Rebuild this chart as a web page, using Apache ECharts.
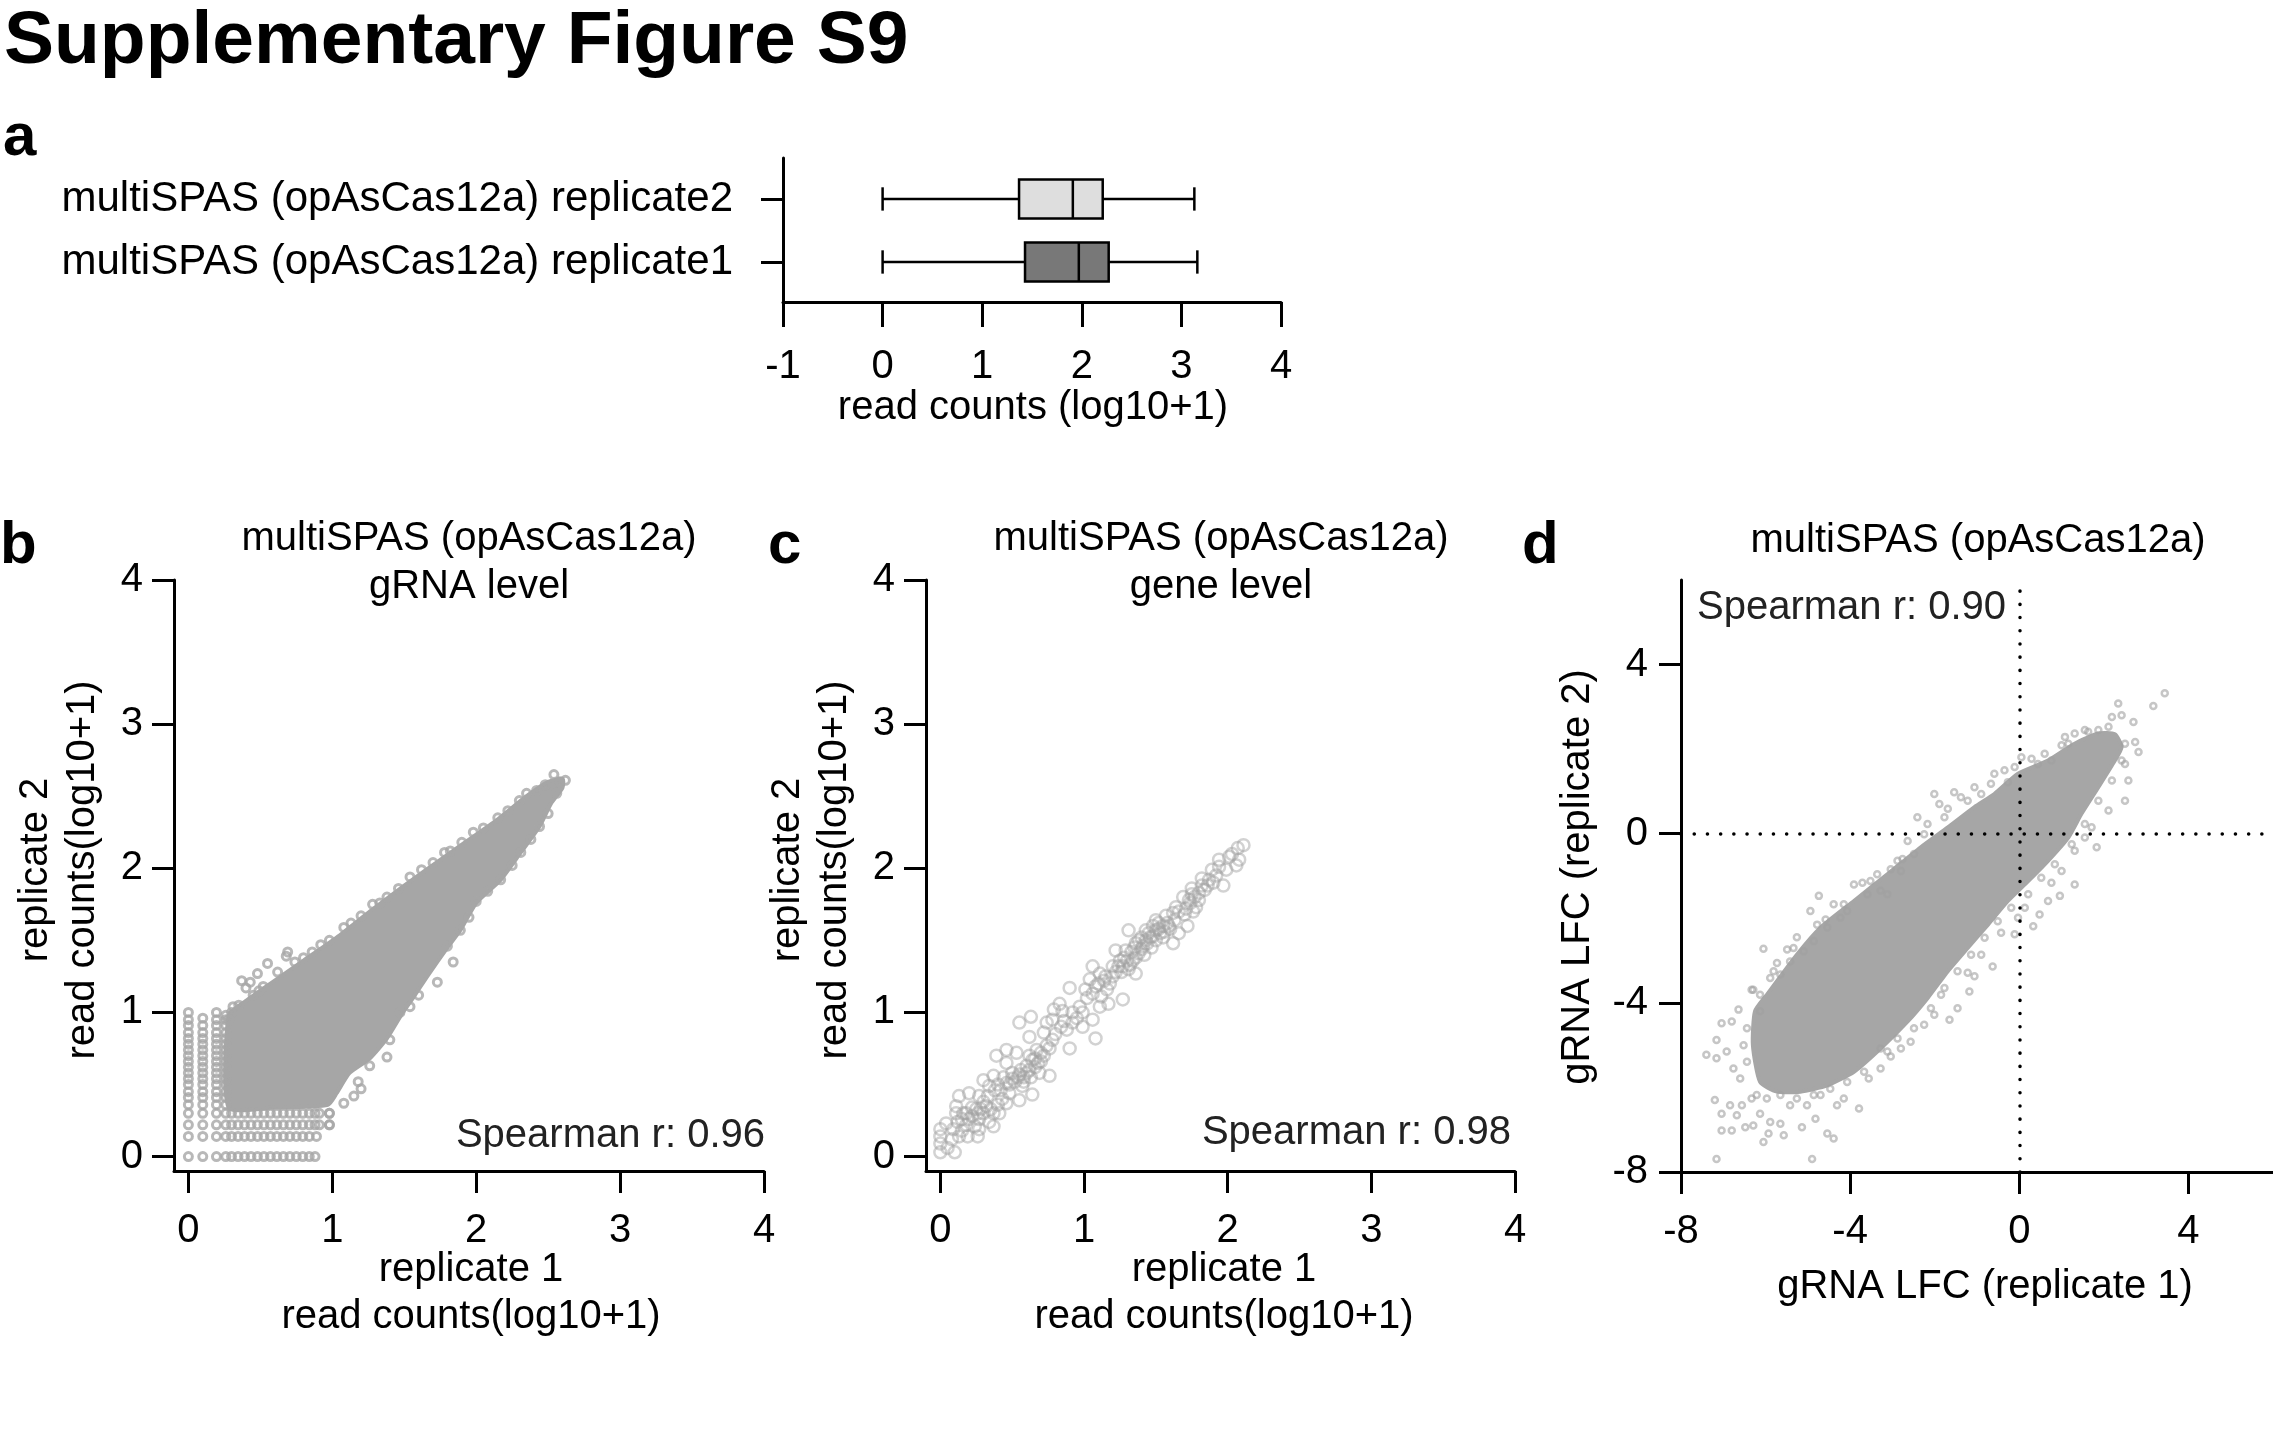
<!DOCTYPE html>
<html>
<head>
<meta charset="utf-8">
<script src="https://cdn.jsdelivr.net/npm/echarts@6/dist/echarts.min.js"></script>
<style>
html,body{margin:0;padding:0;background:#fff;overflow:hidden;}
#chart{width:2273px;height:1431px;}
</style>
</head>
<body>
<div id="chart"></div>
<script>
// ---------------- DATA ----------------
// panel a: box plot (min, Q1, median, Q3, max), bottom row first
const boxCategories = ['multiSPAS (opAsCas12a) replicate1', 'multiSPAS (opAsCas12a) replicate2'];
const boxStats = [
  [0, 1.43, 1.97, 2.27, 3.16],
  [0, 1.37, 1.91, 2.21, 3.13]
];
const boxColors = ['#787878', '#dedede'];
const countTicks = [0, 1, 2, 3, 4];
const lfcTicks = [-8, -4, 0, 4];

// panel b: gRNA level read counts — discrete low-count columns / rows
const gridColsB = [
  [0,     [0,0.14,0.22,0.30,0.36,0.41,0.45,0.50,0.54,0.58,0.62,0.66,0.70,0.74,0.78,0.82,0.86,0.91,0.95,1.00]],
  [0.10,  [0,0.14,0.22,0.30,0.36,0.41,0.45,0.50,0.54,0.58,0.62,0.66,0.70,0.74,0.78,0.82,0.86,0.91,0.96]],
  [0.195, [0,0.14,0.22,0.30,0.36,0.41,0.45,0.50,0.54,0.58,0.62,0.66,0.70,0.74,0.78,0.82,0.86,0.91,0.95,1.00]],
  [0.26,  [0,0.14,0.22,0.30,0.36,0.41,0.45,0.50,0.54,0.58,0.62,0.66,0.70,0.74,0.78,0.82,0.86,0.91,0.95,0.98]]
];
const gridRowsB = [
  [0,    [0.30,0.345,0.39,0.435,0.48,0.525,0.57,0.615,0.66,0.705,0.75,0.795,0.84,0.88]],
  [0.14, [0.30,0.345,0.39,0.435,0.48,0.525,0.57,0.615,0.66,0.705,0.75,0.795,0.84,0.89]],
  [0.22, [0.30,0.345,0.39,0.435,0.48,0.525,0.57,0.615,0.66,0.705,0.75,0.795,0.84,0.88,0.91,0.98]],
  [0.30, [0.30,0.345,0.39,0.435,0.48,0.525,0.57,0.615,0.66,0.705,0.75,0.795,0.84,0.88,0.91,0.98]]
];
// dense core of panel b (outline of the solid cloud)
const coreB = [
  [0.28,0.98],[0.40,1.08],[0.57,1.20],[0.80,1.36],[1.03,1.52],[1.26,1.70],[1.50,1.88],[1.78,2.08],
  [1.98,2.22],[2.15,2.34],[2.35,2.50],[2.50,2.60],[2.60,2.62],[2.60,2.56],[2.52,2.45],[2.44,2.29],
  [2.31,2.11],[2.17,1.92],[2.00,1.76],[1.89,1.57],[1.80,1.45],[1.66,1.25],[1.56,1.10],[1.49,1.00],
  [1.38,0.82],[1.26,0.68],[1.12,0.58],[1.03,0.44],[0.97,0.36],[0.60,0.34],[0.28,0.34]
];
const fringeB = [
  [0.31,1.04],[0.37,1.22],[0.40,1.17],[0.43,1.21],[0.49,1.15],[0.48,1.27],[0.55,1.34],[0.68,1.39],[0.69,1.42],
  [0.74,1.35],[0.80,1.38],[0.86,1.42],[0.92,1.47],[0.98,1.50],[1.08,1.59],[1.13,1.62],[1.20,1.67],
  [1.28,1.75],[1.33,1.76],[1.38,1.80],[1.46,1.86],[1.54,1.94],[1.62,1.99],[1.70,2.04],[1.78,2.11],
  [1.82,2.12],[1.90,2.18],[1.98,2.25],[2.05,2.28],[2.15,2.35],[2.22,2.40],[2.30,2.47],[2.35,2.52],
  [2.42,2.54],[2.48,2.58],[2.54,2.65],[2.58,2.60],[2.62,2.61],
  [0.98,0.30],[0.98,0.22],[1.08,0.37],[1.15,0.42],[1.18,0.52],[1.20,0.47],[1.26,0.63],[1.38,0.69],
  [1.40,0.81],[1.47,1.00],[1.54,1.04],[1.60,1.12],[1.73,1.21],[1.84,1.35],[1.80,1.46],[1.89,1.57],
  [1.95,1.66],[2.00,1.77],[2.08,1.84],[2.17,1.92],[2.25,2.02],[2.31,2.11],[2.38,2.20],[2.44,2.29],
  [2.50,2.38],[2.56,2.52],
  [0.30,1.00],[0.35,1.05],[0.45,1.12],[0.52,1.18],[0.62,1.28],[0.28,0.95]
];

// panel c: gene level read counts
const genePts = [
  [2.11,2.16],[2.07,2.14],[2.01,2.08],[2.06,2.02],[1.99,1.99],[1.94,2.01],[1.97,1.88],[1.92,1.95],[1.87,1.92],
  [1.82,1.88],[1.80,1.83],[1.75,1.82],[1.73,1.78],[1.78,1.73],[1.71,1.72],[1.69,1.80],[1.66,1.70],[1.62,1.69],
  [1.63,1.64],[1.59,1.60],[1.72,1.60],[1.66,1.55],[1.62,1.48],[1.52,1.62],[1.50,1.57],[1.48,1.53],[1.55,1.52],
  [1.43,1.50],[1.41,1.46],[1.36,1.48],[1.38,1.41],[1.34,1.36],[1.31,1.57],[1.29,1.43],[1.25,1.36],[1.27,1.32],
  [1.31,1.30],[1.36,1.27],[1.22,1.43],[1.20,1.32],[1.15,1.25],[1.11,1.27],[1.18,1.20],[1.06,1.32],[1.04,1.23],
  [1.01,1.16],[1.06,1.13],[1.12,1.11],[1.11,1.04],[1.17,1.06],[1.27,1.09],[0.90,1.17],[0.83,1.06],[0.85,1.01],
  [0.92,1.00],[0.97,1.04],[0.99,1.00],[0.92,0.93],[0.88,0.88],[0.99,0.90],[1.06,0.95],[1.08,0.82],[0.79,1.02],
  [0.78,0.95],[0.63,0.97],[0.55,0.93],[0.62,0.83],[0.74,0.93],[0.72,0.86],[0.78,0.81],[0.76,0.75],[0.70,0.72],
  [0.67,0.74],[0.90,0.75],[0.64,0.67],[0.60,0.63],[0.55,0.57],[0.69,0.58],[0.76,0.56],[0.46,0.74],[0.39,0.70],
  [0.53,0.72],[0.46,0.65],[0.50,0.58],[0.57,0.49],[0.46,0.51],[0.42,0.46],[0.37,0.56],[0.34,0.49],[0.30,0.53],
  [0.27,0.42],[0.32,0.35],[0.37,0.30],[0.46,0.37],[0.48,0.44],[0.64,0.43],[0.55,0.39],[0.20,0.44],[0.13,0.42],
  [0.11,0.35],[0.11,0.30],[0.16,0.30],[0.25,0.33],[0.20,0.26],[0.27,0.26],[0.34,0.24],[0.27,0.19],[0.04,0.23],
  [0.09,0.19],[0.13,0.14],[0.19,0.14],[0.26,0.14],[0.00,0.14],[0.00,0.09],[0.00,0.03],[0.10,0.03],[0.00,0.19],
  [0.37,0.21],[0.41,0.30],[1.43,1.57],[1.50,1.64],[1.57,1.67],[1.64,1.73],[1.75,1.86],[1.82,1.93],[1.89,1.99],
  [1.94,2.06],[2.03,2.10],[2.08,2.06],[1.40,1.52],[1.45,1.55],[1.52,1.58],[1.47,1.45],[1.33,1.42],[1.28,1.38],
  [1.55,1.60],[0.58,0.55],[0.62,0.60],[0.52,0.52],[0.66,0.62],[0.72,0.70],[0.35,0.33],[0.30,0.30],[0.22,0.28],
  [0.18,0.22],[0.08,0.12],[0.05,0.06],[0.24,0.21],[0.15,0.18],[0.43,0.40],[0.40,0.36],
  [1.35,1.45],[1.38,1.50],[1.42,1.40],[1.44,1.48],[1.46,1.52],[1.50,1.50],[1.53,1.55],[1.56,1.56],[1.58,1.62],
  [1.60,1.58],[1.48,1.60],[1.40,1.44],[1.32,1.33],[1.30,1.36],[1.26,1.28],[1.24,1.32],[1.36,1.38],
  [1.74,1.76],[1.77,1.80],[1.80,1.78],[1.84,1.85],[1.86,1.88],[1.90,1.90],[1.76,1.70],[1.70,1.68],
  [0.56,0.60],[0.60,0.58],[0.63,0.55],[0.58,0.52],[0.66,0.68],[0.68,0.65],[0.54,0.55],[0.50,0.54],[0.48,0.50],
  [0.62,0.70],[0.70,0.66],[0.74,0.77],[0.80,0.85],[0.84,0.90],[0.86,0.94],[0.95,0.96],
  [0.12,0.24],[0.18,0.30],[0.22,0.34],[0.28,0.33],[0.30,0.38],[0.15,0.26],[0.26,0.30],[0.33,0.42],[0.38,0.46],
  [0.40,0.50],[0.44,0.55],
  [1.02,1.10],[1.08,1.18],[1.14,1.22],[1.16,1.16],[1.20,1.25],[1.22,1.28],[1.10,1.20]
];

// panel d: gRNA LFC replicate 1 vs 2
const coreD = [
  [-6.30,-5.00],[-6.25,-4.20],[-5.97,-3.81],[-5.26,-2.86],[-4.70,-2.22],[-3.91,-1.59],[-3.12,-0.96],
  [-2.33,-0.32],[-1.69,0.15],[-1.06,0.63],[-0.59,0.94],[-0.03,1.42],[0.68,1.73],[1.31,2.13],[1.87,2.37],
  [2.26,2.35],[2.42,2.05],[2.26,1.73],[1.87,1.10],[1.47,0.47],[1.16,-0.09],[0.68,-0.64],[0.21,-1.12],
  [-0.27,-1.59],[-0.74,-2.15],[-1.22,-2.70],[-1.69,-3.25],[-2.17,-3.89],[-2.64,-4.44],[-3.28,-5.08],
  [-3.91,-5.63],[-4.54,-5.95],[-5.18,-6.10],[-5.73,-6.10],[-6.13,-5.87]
];
const fringeD = [
  [3.44,3.32],[3.17,3.02],
  [-4.74,-1.47],[-4.94,-1.83],[-4.39,-1.67],[-4.58,-2.03],[-5.26,-2.45],[-5.49,-2.74],[-6.05,-2.72],
  [-5.73,-3.06],[-6.29,-3.69],[-6.13,-3.81],[-5.89,-3.41],[-5.65,-3.33],[-5.42,-3.02],[-5.10,-2.78],
  [-4.86,-2.54],[-4.54,-2.22],[-4.23,-1.99],[-4.07,-1.83],[-3.91,-1.20],[-3.71,-1.16],[-3.59,-1.43],
  [-3.36,-0.96],[-3.04,-0.84],[-2.80,-0.88],[-3.28,-1.35],[-3.12,-1.43],[-2.76,-0.60],[-2.64,-0.17],
  [-2.49,-0.48],[-2.41,0.39],[-2.17,0.23],[-2.01,0.94],[-1.89,0.70],[-1.69,0.59],[-1.54,0.98],[-1.38,0.86],
  [-1.06,1.10],[-0.90,0.94],[-0.59,1.42],[-0.35,1.50],[-0.27,1.22],[0.05,1.81],[0.29,1.77],[0.44,1.65],
  [0.76,1.73],[1.00,2.09],[1.08,2.29],[1.31,2.37],[1.55,2.45],[1.87,2.45],[2.19,2.76],[2.42,2.80],
  [2.34,3.08],[2.70,2.64],[2.74,2.17],[2.82,1.93],[2.50,1.65],[2.58,1.26],[2.50,0.78],[2.11,0.55],
  [1.83,-0.32],[1.71,0.15],[1.55,-0.09],[1.31,-0.40],[1.31,-1.20],[1.00,-0.88],[0.96,-1.47],[0.76,-1.16],
  [0.68,-1.59],[0.48,-1.91],[0.33,-2.19],[0.13,-1.75],[-0.03,-1.99],[-0.11,-2.38],[-0.43,-2.34],
  [-0.63,-3.14],[-0.90,-2.86],[-1.06,-3.37],[-1.22,-3.29],[-1.18,-3.73],[-1.46,-4.13],[-1.65,-4.40],
  [-1.85,-3.81],[-2.01,-4.28],[-2.25,-4.52],[-2.57,-4.92],[-2.80,-5.08],[-3.04,-5.27],[-3.28,-5.55],
  [-3.56,-5.79],[-3.79,-6.50],[-4.15,-6.26],[-4.31,-6.42],[-4.54,-7.09],[-4.39,-7.21],[-4.82,-6.74],
  [-5.14,-6.94],[-5.57,-7.13],[-5.65,-6.86],[-5.93,-7.09],[-6.05,-7.29],[-6.29,-6.90],[-6.48,-6.94],
  [-6.80,-7.02],[-7.04,-7.02],[-7.16,-7.69],[-4.90,-7.69],[-7.20,-6.30],[-7.04,-6.62],[-6.84,-6.42],
  [-6.68,-6.66],[-6.56,-6.42],[-6.33,-6.26],[-6.13,-6.62],[-6.76,-5.55],[-6.92,-5.15],[-7.16,-5.31],
  [-7.40,-5.23],[-7.16,-4.88],[-7.04,-4.48],[-6.80,-4.44],[-6.64,-4.16],[-6.33,-3.69],[-5.89,-6.82],
  [-5.42,-6.42],[-5.02,-6.42],[-4.70,-6.18],[-3.28,-5.08],
  [-6.60,-5.79],[-6.44,-5.39],[-6.52,-5.00],[-6.44,-4.60],[-6.21,-6.18],[-5.97,-6.26],[-5.65,-6.18],
  [-5.26,-6.26],[-4.86,-6.18],[-4.47,-6.03],[-4.07,-5.87],[-3.67,-5.63],[-3.12,-5.15],[-2.88,-4.84],
  [-2.49,-4.60],[-2.09,-4.13],[-1.77,-3.65],[-1.46,-3.25],[-1.14,-2.86],[-0.82,-2.46],[-0.51,-2.07],
  [-0.19,-1.75],[0.21,-1.43],[0.52,-1.04],[0.84,-0.72],[1.24,-0.25],[1.55,0.23],[1.87,0.78],[2.19,1.26],
  [2.42,1.73],[2.50,2.13],[2.11,2.53],[1.63,2.41],[1.16,2.13],[0.60,1.89],[-0.11,1.58],[-0.67,1.18],
  [-1.22,0.78],[-1.77,0.39],[-2.25,-0.01],[-2.88,-0.64],[-3.52,-1.12],[-4.15,-1.67],[-4.78,-2.15],
  [-5.34,-2.70],[-5.81,-3.25],[-6.13,-4.20]
];
const spearman = {b: 'Spearman r: 0.96', c: 'Spearman r: 0.98', d: 'Spearman r: 0.90'};

// ---------------- CHART ----------------
const FONT = "'Liberation Sans', Arial, Helvetica, sans-serif";
const chart = echarts.init(document.getElementById('chart'), null, {renderer: 'canvas'});

function axisBase(extra) {
  return Object.assign({
    type: 'value',
    splitLine: {show: false},
    axisLine: {show: true, onZero: false, lineStyle: {color: '#000', width: 3}},
    axisTick: {show: true, length: 22, lineStyle: {color: '#000', width: 3}},
    axisLabel: {fontSize: 40, color: '#000', fontFamily: FONT}
  }, extra);
}
function ticks(vals, len) {
  return {show: true, length: len || 22, customValues: vals, lineStyle: {color: '#000', width: 3}};
}
function labels(vals, margin, extra) {
  return Object.assign({fontSize: 40, color: '#000', fontFamily: FONT, margin: margin, customValues: vals}, extra || {});
}

const pointsB = [];
gridColsB.forEach(c => c[1].forEach(y => pointsB.push([c[0], y])));
gridRowsB.forEach(r => r[1].forEach(x => pointsB.push([x, r[0]])));
fringeB.forEach(p => pointsB.push(p));

function polygonSeries(pts, xi, yi, color) {
  return {
    type: 'custom', xAxisIndex: xi, yAxisIndex: yi, z: 2, silent: true,
    data: pts,
    renderItem: function (params, api) {
      if (params.dataIndex !== 0) return null;
      return {
        type: 'polygon',
        shape: {points: pts.map(p => api.coord(p)), smooth: 0.2},
        style: {fill: color, stroke: color, lineWidth: 4, lineJoin: 'round'}
      };
    }
  };
}

function txt(x, y, text, opt) {
  opt = opt || {};
  return {
    type: 'text', x: x, y: y, rotation: opt.rotation || 0, silent: true, z: 10,
    style: {
      text: text, fill: opt.fill || '#000',
      fontSize: opt.size || 40, fontFamily: FONT, fontWeight: opt.weight || 'normal',
      align: opt.align || 'center', verticalAlign: 'middle',
      textAlign: opt.align || 'center', textVerticalAlign: 'middle',
      lineHeight: opt.lh || 48
    }
  };
}

const option = {
  animation: false,
  backgroundColor: '#fff',
  grid: [
    {left: 783, top: 158, width: 498, height: 144},
    {left: 174, top: 580, width: 590, height: 591},
    {left: 926, top: 580, width: 589, height: 591},
    {left: 1681, top: 580, width: 592, height: 592}
  ],
  xAxis: [
    axisBase({gridIndex: 0, min: -1, max: 4, interval: 1,
      axisTick: {show: true, length: 25, lineStyle: {color: '#000', width: 3}},
      axisLabel: {fontSize: 40, color: '#000', fontFamily: FONT, margin: 45}}),
    axisBase({gridIndex: 1, min: -0.1, max: 4, axisTick: ticks(countTicks), axisLabel: labels(countTicks, 40)}),
    axisBase({gridIndex: 2, min: -0.1, max: 4, axisTick: ticks(countTicks), axisLabel: labels(countTicks, 40)}),
    axisBase({gridIndex: 3, min: -8, max: 6, axisTick: ticks(lfcTicks), axisLabel: labels(lfcTicks, 40)})
  ],
  yAxis: [
    axisBase({gridIndex: 0, min: 0.365, max: 2.65, axisTick: ticks([1, 2]),
      axisLabel: labels([1, 2], 50, {fontSize: 42, formatter: v => boxCategories[Math.round(v) - 1]})}),
    axisBase({gridIndex: 1, min: -0.1, max: 4, axisTick: ticks(countTicks), axisLabel: labels(countTicks, 31)}),
    axisBase({gridIndex: 2, min: -0.1, max: 4, axisTick: ticks(countTicks), axisLabel: labels(countTicks, 31)}),
    axisBase({gridIndex: 3, min: -8, max: 6, axisTick: ticks(lfcTicks), axisLabel: labels(lfcTicks, 33)})
  ],
  series: [
    // panel a boxes
    {
      type: 'custom', xAxisIndex: 0, yAxisIndex: 0, silent: true,
      data: boxStats.map((s, i) => [i + 1].concat(s)),
      renderItem: function (params, api) {
        const y = api.value(0);
        const pMin = api.coord([api.value(1), y]);
        const pQ1 = api.coord([api.value(2), y]);
        const pMd = api.coord([api.value(3), y]);
        const pQ3 = api.coord([api.value(4), y]);
        const pMax = api.coord([api.value(5), y]);
        const boxH = api.size([0, 0.62])[1];
        const capH = api.size([0, 0.37])[1];
        const cy = pMd[1];
        const ls = {stroke: '#000', lineWidth: 2.5};
        return {
          type: 'group',
          children: [
            {type: 'line', shape: {x1: pMin[0], y1: cy, x2: pQ1[0], y2: cy}, style: ls},
            {type: 'line', shape: {x1: pQ3[0], y1: cy, x2: pMax[0], y2: cy}, style: ls},
            {type: 'line', shape: {x1: pMin[0], y1: cy - capH / 2, x2: pMin[0], y2: cy + capH / 2}, style: ls},
            {type: 'line', shape: {x1: pMax[0], y1: cy - capH / 2, x2: pMax[0], y2: cy + capH / 2}, style: ls},
            {type: 'rect', shape: {x: pQ1[0], y: cy - boxH / 2, width: pQ3[0] - pQ1[0], height: boxH},
              style: {fill: boxColors[params.dataIndex], stroke: '#000', lineWidth: 2.5}},
            {type: 'line', shape: {x1: pMd[0], y1: cy - boxH / 2, x2: pMd[0], y2: cy + boxH / 2}, style: ls}
          ]
        };
      }
    },
    // panel b
    polygonSeries(coreB, 1, 1, '#a6a6a6'),
    {
      type: 'scatter', xAxisIndex: 1, yAxisIndex: 1, z: 3, silent: true,
      symbol: 'circle', symbolSize: 8, data: pointsB,
      itemStyle: {color: 'rgba(0,0,0,0)', borderColor: '#a6a6a6', borderWidth: 3}
    },
    // panel c
    {
      type: 'scatter', xAxisIndex: 2, yAxisIndex: 2, z: 3, silent: true,
      symbol: 'circle', symbolSize: 12, data: genePts,
      itemStyle: {color: 'rgba(0,0,0,0)', borderColor: 'rgba(160,160,160,0.6)', borderWidth: 2.5}
    },
    // panel d: dotted zero lines
    {
      type: 'scatter', xAxisIndex: 3, yAxisIndex: 3, z: 1, silent: true, data: [],
      markLine: {
        silent: true, symbol: ['none', 'none'], label: {show: false},
        lineStyle: {color: '#000', width: 3.5, type: [0.1, 13.1], cap: 'round'},
        data: [{xAxis: 0}, {yAxis: 0}]
      }
    },
    polygonSeries(coreD, 3, 3, '#a6a6a6'),
    {
      type: 'scatter', xAxisIndex: 3, yAxisIndex: 3, z: 3, silent: true,
      symbol: 'circle', symbolSize: 6, data: fringeD,
      itemStyle: {color: 'rgba(0,0,0,0)', borderColor: 'rgba(160,160,160,0.75)', borderWidth: 2.5}
    }
  ],
  graphic: {
    elements: [
      txt(4, 42, 'Supplementary Figure S9', {size: 75, weight: 'bold', align: 'left'}),
      txt(3, 138, 'a', {size: 60, weight: 'bold', align: 'left'}),
      txt(0, 546, 'b', {size: 60, weight: 'bold', align: 'left'}),
      txt(768, 546, 'c', {size: 60, weight: 'bold', align: 'left'}),
      txt(1522, 546, 'd', {size: 60, weight: 'bold', align: 'left'}),
      txt(1033, 408, 'read counts (log10+1)'),
      txt(469, 563, 'multiSPAS (opAsCas12a)\ngRNA level', {lh: 48}),
      txt(1221, 563, 'multiSPAS (opAsCas12a)\ngene level', {lh: 48}),
      txt(1978, 541, 'multiSPAS (opAsCas12a)'),
      txt(471, 1293, 'replicate 1\nread counts(log10+1)', {lh: 47}),
      txt(1224, 1293, 'replicate 1\nread counts(log10+1)', {lh: 47}),
      txt(1985, 1287, 'gRNA LFC (replicate 1)'),
      txt(59, 870, 'replicate 2\nread counts(log10+1)', {lh: 47, rotation: Math.PI / 2}),
      txt(811, 870, 'replicate 2\nread counts(log10+1)', {lh: 47, rotation: Math.PI / 2}),
      txt(1578, 877, 'gRNA LFC (replicate 2)', {rotation: Math.PI / 2}),
      txt(765, 1136, spearman.b, {align: 'right', fill: '#222'}),
      txt(1511, 1133, spearman.c, {align: 'right', fill: '#222'}),
      txt(1697, 608, spearman.d, {align: 'left', fill: '#222'})
    ]
  }
};
chart.setOption(option);
</script>
</body>
</html>
